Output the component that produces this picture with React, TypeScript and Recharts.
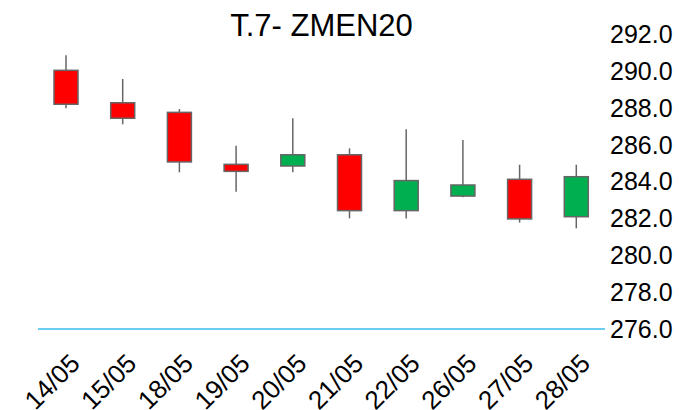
import { BarChart, Bar, XAxis, YAxis } from 'recharts';

// trading days and OHLC values
const dates = ['14/05', '15/05', '18/05', '19/05', '20/05', '21/05', '22/05', '26/05', '27/05', '28/05'];
const opens = [290.03, 288.27, 287.75, 284.93, 284.84, 285.45, 282.42, 283.21, 284.12, 282.09];
const highs = [290.85, 289.56, 287.93, 285.94, 287.43, 285.8, 286.83, 286.25, 284.91, 284.91];
const lows = [287.97, 287.1, 284.5, 283.45, 284.5, 282.0, 282.0, 283.14, 281.77, 281.46];
const closes = [288.19, 287.43, 285.06, 284.55, 285.45, 282.42, 284.05, 283.81, 281.97, 284.26];
const priceTicks = [276, 278, 280, 282, 284, 286, 288, 290, 292];

const data = dates.map((date, i) => ({
  date,
  open: opens[i],
  high: highs[i],
  low: lows[i],
  close: closes[i],
  range: [lows[i], highs[i]],
}));

const FONT = '"Liberation Sans", Arial, sans-serif';

// draws wick + body inside the low..high bar box
function Candle(props: any) {
  const { x, y, width, height, payload } = props;
  const { open, close, high, low } = payload;
  const top = Math.min(y, y + height);
  const h = Math.abs(height);
  const ratio = h / (high - low);
  const yOf = (v: number) => top + (high - v) * ratio;
  const cx = x + width / 2;
  const bodyTop = yOf(Math.max(open, close));
  const bodyBot = yOf(Math.min(open, close));
  const up = close >= open;
  return (
    <g>
      <line x1={cx} x2={cx} y1={top} y2={top + h} stroke="#666666" strokeWidth={1.5} />
      <rect
        x={x}
        y={bodyTop}
        width={width}
        height={Math.max(bodyBot - bodyTop, 1)}
        fill={up ? '#00b050' : '#ff0000'}
        stroke="#666666"
        strokeWidth={1.5}
      />
    </g>
  );
}

// rotated date label, top-right corner sits just under the category
function DateTick(props: any) {
  const { x, y, payload } = props;
  return (
    <text
      transform={`translate(${x + 2},${y}) rotate(-45)`}
      textAnchor="end"
      dy="0.71em"
      fill="#000"
      fontSize={26}
      fontFamily={FONT}
    >
      {payload.value}
    </text>
  );
}

export default function App() {
  return (
    <div style={{ position: 'absolute', left: 0, top: 0, width: 679, height: 410, background: '#fff', fontFamily: FONT }}>
      <BarChart width={679} height={410} data={data} margin={{ top: 34, right: 0, bottom: 0, left: 38 }}>
        <XAxis
          dataKey="date"
          height={81}
          axisLine={{ stroke: '#3dbbee', strokeWidth: 1.5 }}
          tickLine={false}
          tickSize={0}
          tickMargin={23}
          interval={0}
          tick={<DateTick />}
        />
        <YAxis
          orientation="right"
          width={74}
          domain={[276, 292]}
          ticks={priceTicks}
          axisLine={false}
          tickLine={false}
          tickSize={0}
          tickMargin={5}
          tickFormatter={(v: number) => v.toFixed(1)}
          tick={{ fill: '#000', fontSize: 25, fontFamily: FONT }}
        />
        <Bar dataKey="range" barSize={24} shape={<Candle />} isAnimationActive={false} />
      </BarChart>
      <div
        style={{
          position: 'absolute',
          left: 38,
          width: 567,
          top: 8,
          textAlign: 'center',
          fontSize: 31,
          lineHeight: '36px',
          color: '#000',
        }}
      >
        T.7- ZMEN20
      </div>
    </div>
  );
}
